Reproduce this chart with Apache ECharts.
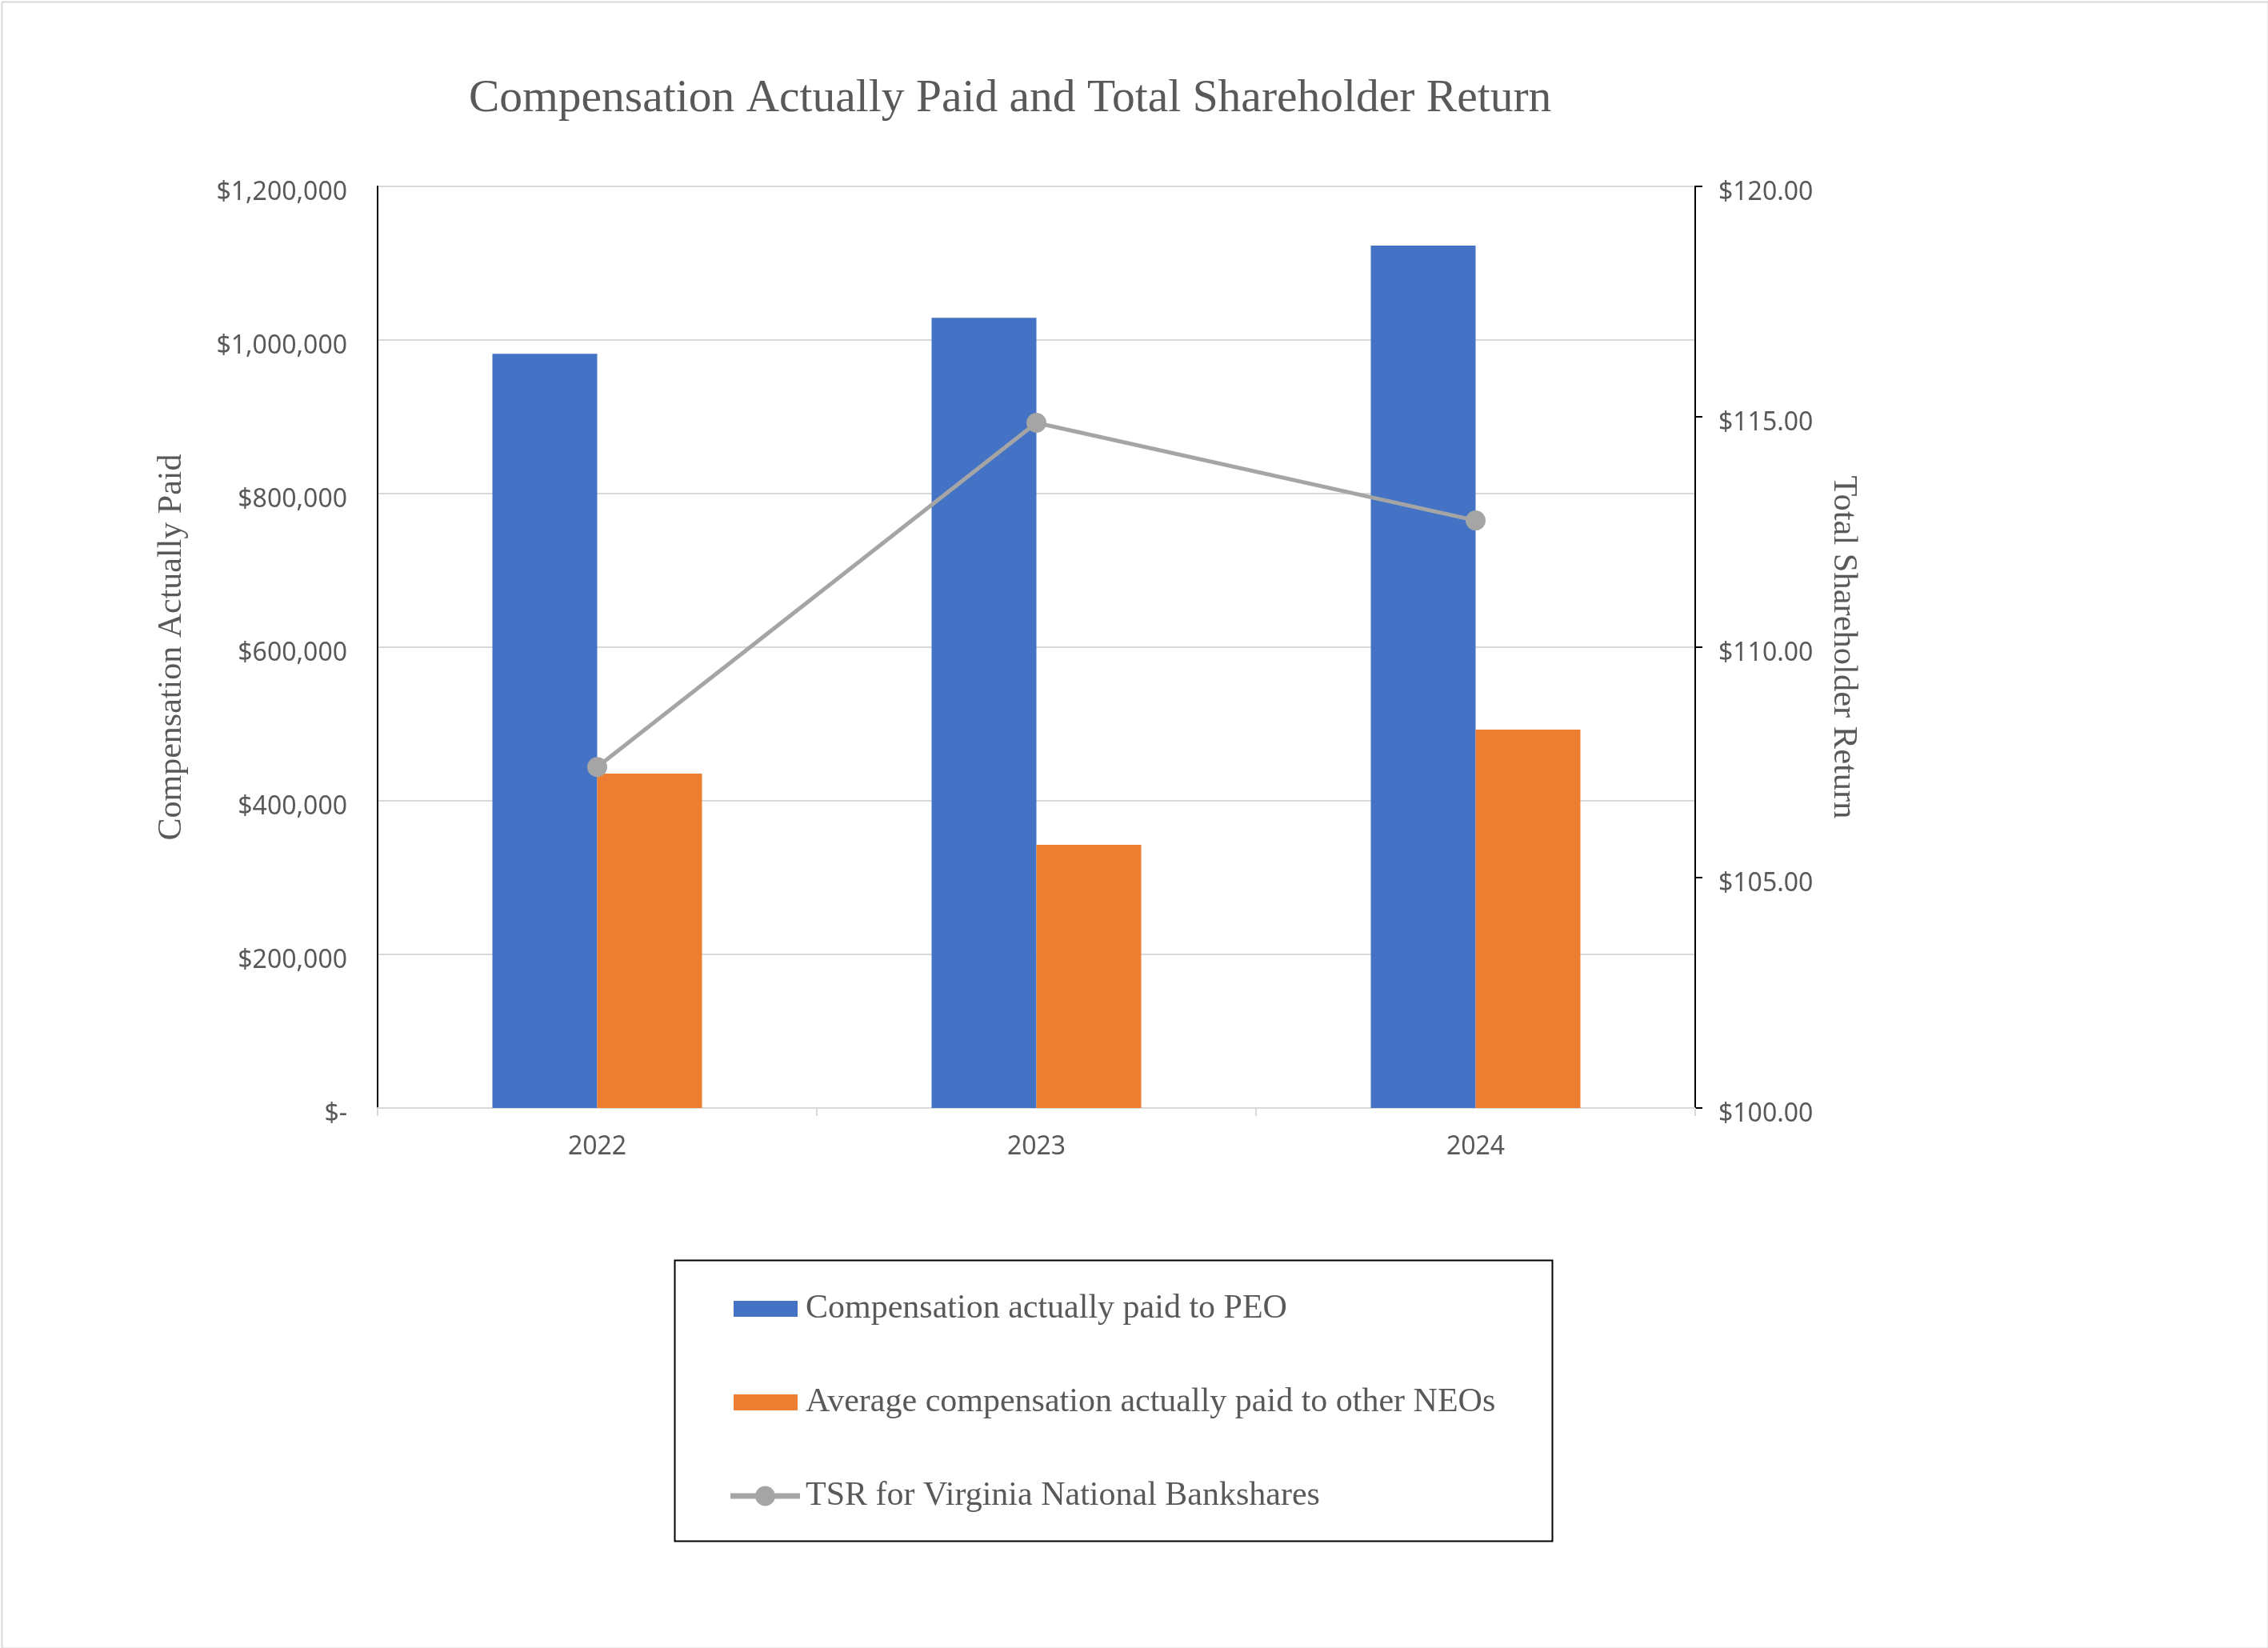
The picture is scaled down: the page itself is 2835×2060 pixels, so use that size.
<!DOCTYPE html>
<html>
<head>
<meta charset="utf-8">
<title>Compensation Actually Paid and Total Shareholder Return</title>
<script src="https://cdn.jsdelivr.net/npm/echarts@6/dist/echarts.min.js"></script>
<style>
  html, body { margin: 0; padding: 0; background: #fff; }
  #chart { width: 2835px; height: 2060px; }
</style>
</head>
<body>
<div id="chart"></div>
<script>
// data
const years = ["2022", "2023", "2024"];
const peoPaid = [982000, 1029000, 1123000];
const neoAvgPaid = [435500, 342700, 492800];
const tsr = [107.4, 114.87, 112.75];

const seriesNames = [
  "Compensation actually paid to PEO",
  "Average compensation actually paid to other NEOs",
  "TSR for Virginia National Bankshares",
];

const serif = "'Liberation Serif', 'Times New Roman', serif";
const sans = "'Noto Sans', 'Open Sans', sans-serif";
const textGray = "#595959";

// legend icons: 87x25 box, the two M's only fix the box size
const rectIcon = "path://M0,0 M87,25 M4,2.5 L84,2.5 L84,22.5 L4,22.5 Z";
const lineIcon =
  "path://M0,9 L87,9 L87,16 L0,16 Z M31,12.5 A12.5,12.5 0 1,1 56,12.5 A12.5,12.5 0 1,1 31,12.5 Z";

const chart = echarts.init(document.getElementById("chart"));

// money formatter for the left axis (Excel accounting style)
const money = (v) => (v === 0 ? "$-" : "$" + v.toLocaleString("en-US"));

// y tick labels sit a little below their tick in the original
const yLabel = {
  fontFamily: sans,
  fontSize: 32,
  color: textGray,
  verticalAlign: "top",
  lineHeight: 16,
};

const option = {
  animation: false,
  backgroundColor: "#fff",
  title: {
    text: "Compensation Actually Paid and Total Shareholder Return",
    left: 586,
    top: 95,
    padding: 0,
    textStyle: {
      fontFamily: serif,
      fontSize: 57.5,
      fontWeight: "normal",
      color: textGray,
    },
  },
  grid: {
    left: 472,
    right: 716,
    top: 233,
    bottom: 675,
  },
  legend: {
    data: [
      { name: seriesNames[0], icon: rectIcon },
      { name: seriesNames[1], icon: rectIcon },
      { name: seriesNames[2], icon: lineIcon },
    ],
    orient: "vertical",
    left: 913,
    top: 1615,
    padding: 0,
    itemWidth: 87,
    itemHeight: 25,
    itemGap: 75,
    textStyle: {
      fontFamily: serif,
      fontSize: 42,
      lineHeight: 41,
      color: textGray,
      padding: [0, 0, 0, 2],
    },
  },
  xAxis: {
    type: "category",
    data: years,
    axisLine: { lineStyle: { color: "#D9D9D9", width: 2 } },
    axisTick: { show: true, length: 10, lineStyle: { color: "#D9D9D9", width: 2 } },
    axisLabel: {
      fontFamily: sans,
      fontSize: 32,
      color: textGray,
      margin: 33,
    },
  },
  yAxis: [
    {
      type: "value",
      min: 0,
      max: 1200000,
      interval: 200000,
      name: "Compensation Actually Paid",
      nameLocation: "middle",
      nameGap: 236,
      nameTextStyle: { fontFamily: serif, fontSize: 42, color: textGray },
      axisLine: { show: true, lineStyle: { color: "#000", width: 2 } },
      axisTick: { show: false },
      axisLabel: Object.assign({}, yLabel, { margin: 38, formatter: money }),
      splitLine: { lineStyle: { color: "#D9D9D9", width: 2 } },
    },
    {
      type: "value",
      min: 100,
      max: 120,
      interval: 5,
      position: "right",
      name: "Total Shareholder Return",
      nameLocation: "middle",
      nameRotate: -90,
      nameGap: 164,
      nameTextStyle: { fontFamily: serif, fontSize: 42.5, color: textGray },
      axisLine: { show: true, lineStyle: { color: "#000", width: 2 } },
      axisTick: { show: true, length: 9, lineStyle: { color: "#000", width: 2 } },
      axisLabel: Object.assign({}, yLabel, {
        margin: 29,
        formatter: (v) => "$" + v.toFixed(2),
      }),
      splitLine: { show: false },
    },
  ],
  series: [
    {
      name: seriesNames[0],
      type: "bar",
      data: peoPaid,
      barWidth: 131,
      barGap: "0%",
      itemStyle: { color: "#4472C4" },
    },
    {
      name: seriesNames[1],
      type: "bar",
      data: neoAvgPaid,
      barWidth: 131,
      barGap: "0%",
      itemStyle: { color: "#ED7D31" },
    },
    {
      name: seriesNames[2],
      type: "line",
      yAxisIndex: 1,
      data: tsr,
      symbol: "circle",
      symbolSize: 25,
      z: 5,
      lineStyle: { color: "#A5A5A5", width: 5 },
      itemStyle: { color: "#A5A5A5" },
    },
  ],
  graphic: [
    // outer frame of the picture
    {
      type: "rect",
      left: 0,
      top: 0,
      shape: { width: 2833, height: 2058 },
      style: { fill: "none", stroke: "#D9D9D9", lineWidth: 2 },
      silent: true,
    },
    // legend box
    {
      type: "rect",
      left: 841,
      top: 1573,
      shape: { width: 1097, height: 351 },
      style: { fill: "none", stroke: "#000", lineWidth: 2 },
      silent: true,
    },
  ],
};

chart.setOption(option);
</script>
</body>
</html>
